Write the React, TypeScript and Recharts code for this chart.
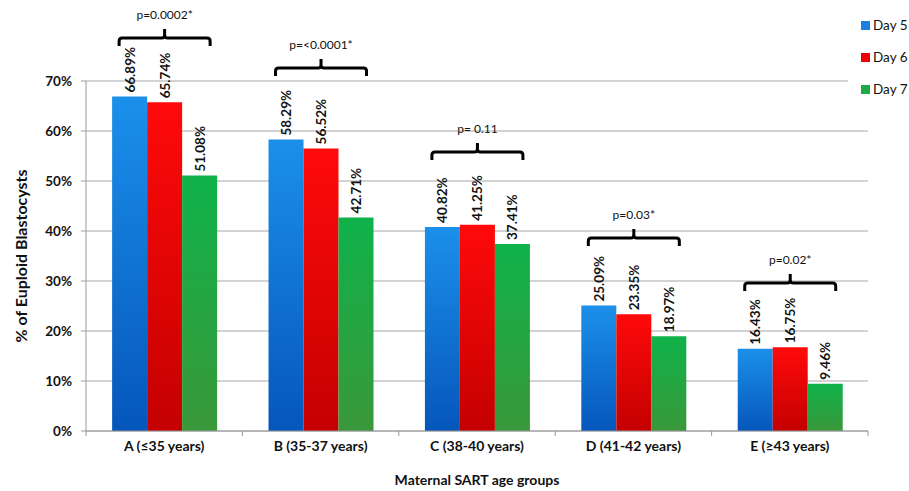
import React from 'react';
import { BarChart, Bar, XAxis, YAxis, CartesianGrid, LabelList } from 'recharts';

const categories = ['A (≤35 years)', 'B (35-37 years)', 'C (38-40 years)', 'D (41-42 years)', 'E (≥43 years)'];
const day5 = [66.89, 58.29, 40.82, 25.09, 16.43];
const day6 = [65.74, 56.52, 41.25, 23.35, 16.75];
const day7 = [51.08, 42.71, 37.41, 18.97, 9.46];
const pValues = ['p=0.0002*', 'p=<0.0001*', 'p= 0.11', 'p=0.03*', 'p=0.02*'];
const bracketLevels = [78.6, 72.6, 55.8, 38.6, 29.6];
const yTicks = [0, 10, 20, 30, 40, 50, 60, 70];

const seriesNames = ['Day 5', 'Day 6', 'Day 7'];
const legendColors = ['#1a7fde', '#f00000', '#1faa48'];

const data = categories.map((name, i) => ({ name, d5: day5[i], d6: day6[i], d7: day7[i] }));

const FONT = 'Lato, "Open Sans", sans-serif';

const ValueLabel = (props: any) => {
  const { x, y, width, value } = props;
  const cx = x + width / 2;
  const ty = y - 4;
  return (
    <text
      x={cx}
      y={ty}
      transform={`rotate(-90 ${cx} ${ty})`}
      textAnchor="start"
      dominantBaseline="central"
      fontSize={13.5}
      fontWeight={700}
      fill="#111"
      fontFamily={FONT}
    >
      {`${value.toFixed(2)}%`}
    </text>
  );
};

// bracket + p-value drawn over the middle (Day 6) bar of each group
const Bracket = (props: any) => {
  const { x, y, width, height, value, index } = props;
  const cx = x + width / 2;
  const level = bracketLevels[index];
  const yl = y + height - (height * level) / value;
  const half = width * 1.3;
  const l = cx - half;
  const r = cx + half;
  const d = `M ${l} ${yl + 8} L ${l} ${yl + 3} Q ${l} ${yl} ${l + 3} ${yl} L ${cx - 3} ${yl} Q ${cx} ${yl} ${cx} ${yl - 3} L ${cx} ${yl - 9} M ${cx} ${yl - 3} Q ${cx} ${yl} ${cx + 3} ${yl} L ${r - 3} ${yl} Q ${r} ${yl} ${r} ${yl + 3} L ${r} ${yl + 8}`;
  return (
    <g>
      <path d={d} fill="none" stroke="#000" strokeWidth={3} />
      <text x={cx} y={yl - 24} textAnchor="middle" dominantBaseline="central" fontSize={12} fill="#111" fontFamily={FONT}>
        {pValues[index]}
      </text>
    </g>
  );
};

const CategoryTick = (props: any) => {
  const { x, y, payload, index, visibleTicksCount, width } = props;
  const half = payload.offset ?? width / visibleTicksCount / 2;
  const top = y - 8;
  return (
    <g>
      <line x1={x - half} x2={x - half} y1={top} y2={top + 5} stroke="#999" />
      {index === visibleTicksCount - 1 && <line x1={x + half} x2={x + half} y1={top} y2={top + 5} stroke="#999" />}
      <text x={x} y={y + 12} textAnchor="middle" fontSize={14} fontWeight={700} fill="#111" fontFamily={FONT}>
        {payload.value}
      </text>
    </g>
  );
};

const YLabel = (props: any) => {
  const { viewBox } = props;
  const x = 20;
  const y = viewBox.y + viewBox.height / 2;
  return (
    <text x={x} y={y} transform={`rotate(-90 ${x} ${y})`} textAnchor="middle" dominantBaseline="central" fontSize={16} fontWeight={700} fill="#111" fontFamily={FONT}>
      % of Euploid Blastocysts
    </text>
  );
};

export default function App() {
  return (
    <div style={{ position: 'relative', width: 909, height: 491, background: '#fff', fontFamily: FONT }}>
      <style>{'body{margin:0}'}</style>
      <BarChart
        width={909}
        height={491}
        data={data}
        margin={{ top: 81, right: 41, bottom: 0, left: 0 }}
        barCategoryGap="16.7%"
        barGap={0}
      >
        <defs>
          <linearGradient id="g5" x1="0" y1="0" x2="0" y2="1">
            <stop offset="0%" stopColor="#1b90ea" />
            <stop offset="100%" stopColor="#0656bb" />
          </linearGradient>
          <linearGradient id="g6" x1="0" y1="0" x2="0" y2="1">
            <stop offset="0%" stopColor="#ff0a0a" />
            <stop offset="100%" stopColor="#c40000" />
          </linearGradient>
          <linearGradient id="g7" x1="0" y1="0" x2="0" y2="1">
            <stop offset="0%" stopColor="#0fb24a" />
            <stop offset="100%" stopColor="#3a983a" />
          </linearGradient>
        </defs>
        <CartesianGrid vertical={false} stroke="#a6a6a6" />
        <XAxis
          dataKey="name"
          height={60}
          axisLine={{ stroke: '#999' }}
          tickLine={false}
          tick={<CategoryTick />}
          interval={0}
          label={{ value: 'Maternal SART age groups', position: 'insideBottom', offset: 6, fontSize: 14, fontWeight: 700, fill: '#111', fontFamily: FONT }}
        />
        <YAxis
          width={86}
          domain={[0, 70]}
          ticks={yTicks}
          tickFormatter={(v: number) => `${v}%`}
          axisLine={{ stroke: '#999' }}
          tickLine={{ stroke: '#999' }}
          tickSize={5}
          tickMargin={9}
          tick={{ fontSize: 13.5, fontWeight: 700, fill: '#111', fontFamily: FONT }}
          label={<YLabel />}
        />
        <Bar dataKey="d5" name={seriesNames[0]} fill="url(#g5)" isAnimationActive={false}>
          <LabelList dataKey="d5" content={<ValueLabel />} />
        </Bar>
        <Bar dataKey="d6" name={seriesNames[1]} fill="url(#g6)" isAnimationActive={false}>
          <LabelList dataKey="d6" content={<ValueLabel />} />
          <LabelList dataKey="d6" content={<Bracket />} />
        </Bar>
        <Bar dataKey="d7" name={seriesNames[2]} fill="url(#g7)" isAnimationActive={false}>
          <LabelList dataKey="d7" content={<ValueLabel />} />
        </Bar>
      </BarChart>
      <div style={{ position: 'absolute', left: 848, top: 12, width: 61, height: 90, background: '#fff' }}>
        {seriesNames.map((n, i) => (
          <div key={n} style={{ position: 'absolute', left: 13, top: 5 + i * 32, display: 'flex', alignItems: 'center', fontSize: 13.5, color: '#111', whiteSpace: 'nowrap' }}>
            <span style={{ display: 'inline-block', width: 9, height: 9, background: legendColors[i], marginRight: 3 }} />
            {n}
          </div>
        ))}
      </div>
    </div>
  );
}
